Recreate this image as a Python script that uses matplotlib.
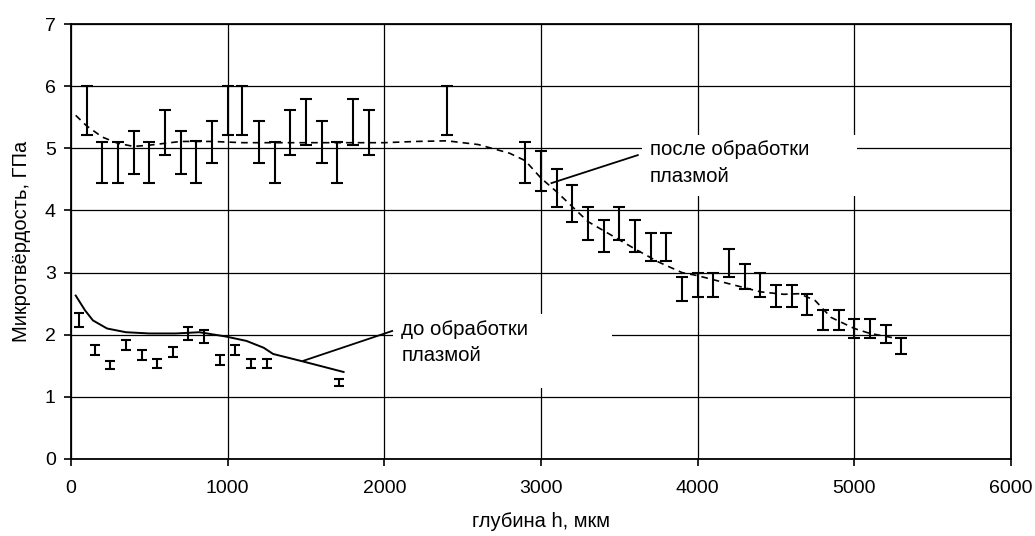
import numpy as np
import matplotlib
matplotlib.use('Agg')
import matplotlib.pyplot as plt
from matplotlib.patches import Rectangle

plt.rcParams['font.family'] = ['Liberation Sans', 'DejaVu Sans']

# после обработки плазмой - error bars (lower / upper)
x_after = [100, 200, 300, 400, 500, 600, 700, 800, 900, 1000, 1090, 1200, 1300, 1400, 1500,
           1600, 1700, 1800, 1900, 2400, 2900, 3000, 3100, 3200, 3300, 3400, 3500, 3600, 3700,
           3800, 3900, 4000, 4100, 4200, 4300, 4400, 4500, 4600, 4700, 4800, 4900, 5000, 5100,
           5200, 5300]
hi_after = [6.0, 5.1, 5.1, 5.28, 5.1, 5.61, 5.28, 5.12, 5.44, 6.0, 6.0, 5.44, 5.1, 5.61, 5.79,
            5.44, 5.1, 5.79, 5.61, 6.0, 5.1, 4.95, 4.66, 4.41, 4.05, 3.84, 4.05, 3.84, 3.64,
            3.64, 2.93, 3.0, 3.0, 3.38, 3.13, 2.99, 2.80, 2.80, 2.66, 2.39, 2.39, 2.26, 2.26,
            2.15, 1.95]
lo_after = [5.21, 4.44, 4.44, 4.59, 4.44, 4.90, 4.59, 4.44, 4.76, 5.21, 5.21, 4.76, 4.44, 4.90, 5.06,
            4.76, 4.44, 5.06, 4.90, 5.21, 4.44, 4.32, 4.06, 3.82, 3.52, 3.33, 3.52, 3.33, 3.19,
            3.19, 2.54, 2.60, 2.60, 2.93, 2.73, 2.60, 2.44, 2.44, 2.31, 2.07, 2.07, 1.94, 1.94,
            1.87, 1.69]

# trend line (dashed)
x_after_fit = [30, 100, 200, 300, 400, 500, 700, 900, 1100, 1300, 1600, 2000, 2200, 2400, 2600,
               2800, 2900, 3000, 3100, 3200, 3300, 3450, 3600, 3750, 3900, 4000, 4200, 4400,
               4550, 4650, 4750, 4850, 5000, 5100, 5250]
y_after_fit = [5.53, 5.36, 5.18, 5.08, 5.03, 5.05, 5.11, 5.11, 5.09, 5.09, 5.09, 5.09, 5.11, 5.12,
               5.06, 4.92, 4.80, 4.52, 4.30, 4.06, 3.82, 3.60, 3.38, 3.17, 3.00, 2.95, 2.82, 2.69,
               2.65, 2.66, 2.55, 2.28, 2.10, 2.02, 1.95]

# до обработки плазмой
x_before = [50, 150, 250, 350, 450, 550, 650, 750, 850, 950, 1050, 1150, 1250, 1710]
hi_before = [2.35, 1.84, 1.57, 1.92, 1.75, 1.61, 1.81, 2.12, 2.07, 1.67, 1.84, 1.61, 1.61, 1.28]
lo_before = [2.13, 1.68, 1.44, 1.75, 1.60, 1.47, 1.64, 1.92, 1.87, 1.52, 1.67, 1.46, 1.46, 1.17]

x_before_fit = [30, 90, 140, 230, 350, 500, 670, 820, 990, 1120, 1230, 1290, 1480, 1740]
y_before_fit = [2.63, 2.39, 2.23, 2.10, 2.04, 2.02, 2.02, 2.04, 1.97, 1.90, 1.79, 1.69, 1.57, 1.40]

fig = plt.figure(figsize=(10.35, 5.36), dpi=100)
ax = fig.add_axes([0.0686, 0.1437, 0.9082, 0.8115])

ax.set_xlim(0, 6000)
ax.set_ylim(0, 7)
ax.set_xticks(np.arange(0, 6001, 1000))
ax.set_yticks(np.arange(0, 8, 1))
ax.grid(True, color='black', lw=0.9, zorder=0)
ax.set_axisbelow(True)
for s in ax.spines.values():
    s.set_linewidth(1.3)
ax.tick_params(direction='out', length=5, width=1.2, labelsize=14)
ax.tick_params(axis='x', pad=10)
ax.tick_params(axis='y', pad=6)

# white boxes behind the labels
ax.add_patch(Rectangle((3644, 4.23), 1372, 0.98, facecolor='white', edgecolor='none', zorder=1))
ax.add_patch(Rectangle((2055, 1.14), 1397, 1.19, facecolor='white', edgecolor='none', zorder=1))

lo = np.array(lo_after); hi = np.array(hi_after)
ax.errorbar(x_after, (lo + hi) / 2, yerr=(hi - lo) / 2, fmt='none', ecolor='black',
            elinewidth=1.5, capsize=4.3, capthick=1.5, zorder=3)
lo = np.array(lo_before); hi = np.array(hi_before)
ax.errorbar(x_before, (lo + hi) / 2, yerr=(hi - lo) / 2, fmt='none', ecolor='black',
            elinewidth=1.5, capsize=3.8, capthick=1.5, zorder=3)

ax.plot(x_after_fit, y_after_fit, color='black', lw=1.2, dashes=(4, 3), zorder=2)
ax.plot(x_before_fit, y_before_fit, color='black', lw=1.4, zorder=2)

# leader lines
ax.plot([3067, 3618], [4.44, 4.89], color='black', lw=1.3, zorder=2)
ax.plot([1483, 2050], [1.58, 2.06], color='black', lw=1.3, zorder=2)

ax.text(3695, 4.89, 'после обработки', fontsize=14.7, va='baseline', zorder=4)
ax.text(3695, 4.46, 'плазмой', fontsize=14.7, va='baseline', zorder=4)
ax.text(2109, 1.995, 'до обработки', fontsize=14.7, va='baseline', zorder=4)
ax.text(2109, 1.58, 'плазмой', fontsize=14.7, va='baseline', zorder=4)

ax.set_xlabel('глубина h, мкм', fontsize=14.5, labelpad=11)
ax.set_ylabel('Микротвёрдость, ГПа', fontsize=14.5, labelpad=10)

fig.savefig('out.png', dpi=100)
